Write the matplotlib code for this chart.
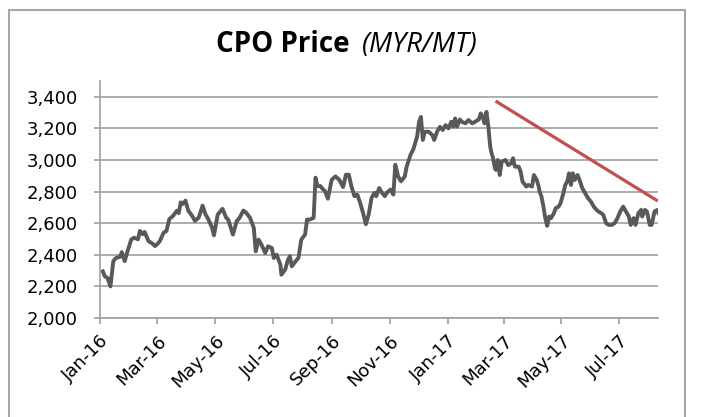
import numpy as np
import pandas as pd
import matplotlib
matplotlib.use("Agg")
import matplotlib.pyplot as plt
import matplotlib.dates as mdates
import matplotlib.patheffects as pe
from matplotlib.patches import Rectangle
from matplotlib.ticker import FuncFormatter, MultipleLocator

# CPO price (days counted from 1 Jan 2016)
start_date = "2016-01-01"
day_offset = [
    3, 5, 8, 11, 14, 17, 21, 23, 26, 29, 33, 36, 40, 42, 45, 47, 51, 55, 58, 61,
    63, 67, 70, 73, 77, 81, 83, 85, 87, 90, 93, 97, 100, 104, 108, 111, 114, 118, 120,
    124, 129, 133, 135, 140, 144, 147, 151, 154, 158, 162, 164, 167, 170, 174, 177,
    181, 183, 186, 190, 191, 195, 198, 200, 202, 206, 209, 212, 216, 218, 221, 225,
    227, 229, 232, 235, 237, 240,
    244, 248, 252, 256, 259, 262, 265, 268, 271, 274, 277, 280, 283, 286, 289, 291,
    294, 297, 300, 302, 306, 309, 311, 314, 317, 321, 323, 327, 330, 334, 336, 338,
    340, 342, 346, 350, 352, 355, 358, 361, 364, 367,
    370, 372, 374, 376, 379, 381, 385, 388, 392, 395, 399, 401, 403, 405, 407, 409,
    411, 412, 414, 416, 417, 419, 421, 423, 427, 430, 433, 435, 437, 441, 443, 445,
    449, 451, 455, 457, 460, 462, 463, 465, 467, 469, 471, 473, 475, 478, 480, 483,
    485, 488,
    490, 492, 494, 496, 498, 500, 503, 505, 508, 511, 514, 517, 520, 523, 525, 528,
    530, 533, 536, 539, 542, 545, 548, 551, 554, 557, 559, 562, 564, 567, 570, 571,
    574, 576, 579, 581, 584, 587, 588,
]
cpo_price = [
    2295, 2264, 2253, 2200, 2360, 2381, 2387, 2417, 2360, 2423, 2498, 2508, 2498, 2551, 2530, 2545, 2487, 2472, 2455, 2472,
    2487, 2540, 2551, 2626, 2647, 2679, 2664, 2732, 2721, 2743, 2679, 2647, 2615, 2636, 2711, 2657, 2626, 2572, 2523,
    2655, 2691, 2634, 2623, 2528, 2613, 2634, 2680, 2666, 2634, 2570, 2422, 2496, 2465, 2412, 2454,
    2443, 2380, 2401, 2338, 2274, 2306, 2369, 2391, 2327, 2359, 2380, 2496, 2528, 2623, 2623, 2634,
    2888, 2835, 2835, 2814, 2803, 2755,
    2875, 2896, 2875, 2829, 2907, 2907, 2829, 2771, 2781, 2729, 2666, 2593, 2656, 2760, 2792, 2771,
    2823, 2792, 2771, 2792, 2813, 2781, 2970, 2896, 2865, 2896, 2959, 3032, 3068, 3148, 3242, 3273,
    3127, 3179, 3179, 3158, 3127, 3179, 3210, 3190, 3221, 3200,
    3242, 3211, 3263, 3211, 3257, 3242, 3232, 3253, 3232, 3242, 3257, 3295, 3274, 3232, 3305, 3211,
    3084, 3053, 3011, 2947, 2937, 3000, 2905, 2989, 3000, 2968, 2979, 3011, 2958, 2958, 2926, 2863,
    2832, 2842, 2832, 2905, 2874, 2832, 2800, 2768, 2705, 2632, 2583, 2642, 2632, 2663, 2695, 2705,
    2726, 2789,
    2842, 2863, 2916, 2842, 2916, 2874, 2905, 2874, 2821, 2789, 2758, 2737, 2705, 2684, 2674, 2663,
    2653, 2600, 2589, 2589, 2600, 2632, 2674, 2705, 2674, 2642, 2589, 2632, 2589, 2663, 2684, 2642,
    2684, 2674, 2589, 2589, 2674, 2684, 2665,
]

# hand-drawn downward trend line
trend_dates = ["2017-02-22", "2017-08-09"]
trend_values = [3368, 2746]

x_start, x_end = "2016-01-01", "2017-08-11"
y_min, y_max, y_step = 2000, 3500, 200

dates = pd.Timestamp(start_date) + pd.to_timedelta(day_offset, unit="D")

fig = plt.figure(figsize=(7.01, 4.17), dpi=100)
fig.patch.set_facecolor("white")
fig.patches.append(Rectangle((9 / 701, -0.05), 676 / 701, 1.05 - 9.5 / 417,
                             transform=fig.transFigure, fill=False,
                             edgecolor="#A6A6A6", linewidth=1.5))

ax = fig.add_axes([100 / 701, 1 - 318 / 417, 558.3 / 701, 237 / 417])

ax.plot(dates, cpo_price, color="#595959", linewidth=2.8, solid_joinstyle="round")
ax.plot(pd.to_datetime(trend_dates), trend_values, color="#C0504D", linewidth=2.3,
        path_effects=[pe.SimplePatchShadow(offset=(1, -1.5), alpha=0.25), pe.Normal()])

ax.set_xlim(pd.Timestamp(x_start), pd.Timestamp(x_end))
ax.set_ylim(y_min, y_max)
ax.yaxis.set_major_locator(MultipleLocator(y_step))
ax.set_yticks(np.arange(y_min, y_max, y_step))
ax.yaxis.set_major_formatter(FuncFormatter(lambda v, p: f"{v:,.0f}"))
ax.xaxis.set_major_locator(mdates.MonthLocator(bymonth=[1, 3, 5, 7, 9, 11]))
ax.xaxis.set_major_formatter(mdates.DateFormatter("%b-%y"))

ax.grid(axis="y", color="#A0A0A0", linewidth=1.2)
ax.set_axisbelow(True)
for side in ["top", "right"]:
    ax.spines[side].set_visible(False)
for side in ["left", "bottom"]:
    ax.spines[side].set_color("#A0A0A0")
    ax.spines[side].set_linewidth(1.2)

ax.tick_params(axis="both", colors="#A0A0A0", length=4, width=1.2, labelcolor="black",
               labelsize=13)
ax.tick_params(axis="y", pad=12)
ax.tick_params(axis="x", pad=6)
for lbl in ax.get_xticklabels():
    lbl.set_rotation(45)
    lbl.set_ha("right")
    lbl.set_rotation_mode("anchor")

fig.text(216 / 701, 1 - 52 / 417, "CPO Price", fontsize=20, fontweight="bold",
         family=["Open Sans", "DejaVu Sans"], va="baseline", ha="left")
fig.text(362 / 701, 1 - 52 / 417, "(MYR/MT)", fontsize=20, style="italic",
         family=["Open Sans", "DejaVu Sans"], va="baseline", ha="left")

fig.savefig("out.png", dpi=100)
